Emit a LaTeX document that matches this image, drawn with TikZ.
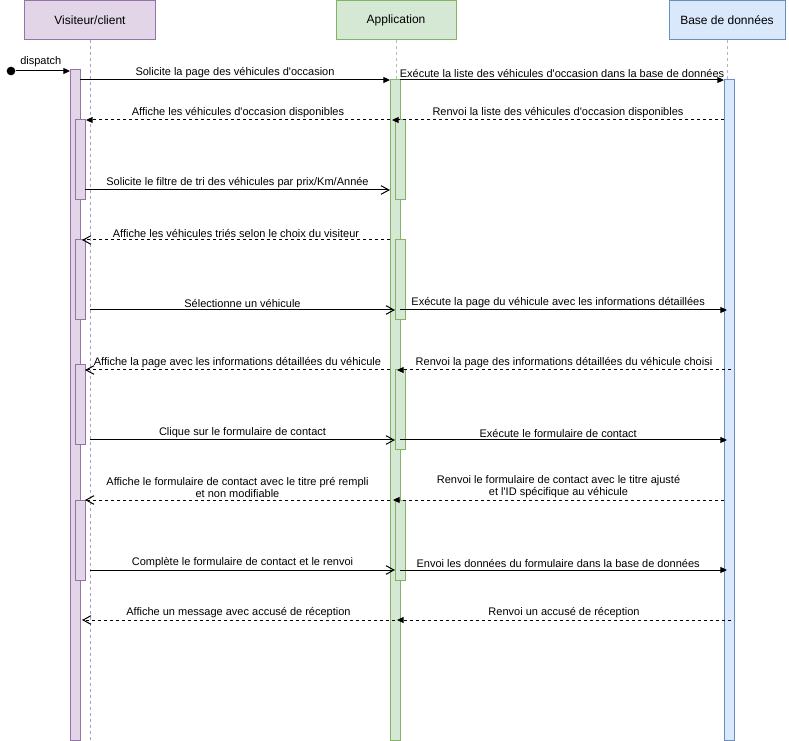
\documentclass[tikz,border=0pt]{standalone}
\usepackage{fontspec}
\setmainfont{Liberation Sans}
\usetikzlibrary{arrows.meta}

\definecolor{violetfond}{RGB}{225,213,231}
\definecolor{violettrait}{RGB}{150,115,166}
\definecolor{vertfond}{RGB}{213,232,212}
\definecolor{verttrait}{RGB}{130,179,102}
\definecolor{bleufond}{RGB}{218,232,252}
\definecolor{bleutrait}{RGB}{108,142,191}

\newcommand{\apos}{\textquotesingle}

\tikzset{
  acteur/.style={draw, line width=0.75pt, minimum height=29.25pt, inner sep=0pt, font=\fontsize{9}{11}\selectfont},
  vie/.style={line width=0.75pt, dash pattern={on 2.25pt off 2.25pt}},
  barre/.style={line width=0.75pt},
  appel/.style={line width=0.75pt, -{Triangle[length=5pt,width=4.5pt]}},
  appelo/.style={line width=0.75pt, -{Straight Barb[length=6pt,width=6.5pt]}},
  retour/.style={appel, dash pattern={on 2.25pt off 2.25pt}},
  retouro/.style={appelo, dash pattern={on 2.25pt off 2.25pt}},
  etiquette/.style={font=\fontsize{8.25}{9}\selectfont, inner sep=1.5pt, align=center},
  point/.style={circle, fill, inner sep=0pt, minimum size=6.5pt}
}

\begin{document}
\begin{tikzpicture}[x=0.75pt,y=0.75pt,yscale=-1,xscale=1]
\useasboundingbox (0,0) rectangle (789,741);

% Header Nodes
\node [acteur, fill=violetfond, draw=violettrait, minimum width=98.25pt] (visiteur) at (90,20.5) {Visiteur/client};
\node [acteur, fill=vertfond, draw=verttrait, minimum width=90pt] (application) at (396,20.5) {Application};
\node [acteur, fill=bleufond, draw=bleutrait, minimum width=87pt] (bdd) at (727,20.5) {Base de données};

% Lifelines
\draw [vie, draw=violettrait!70] (visiteur.south) -- ++(0,700);
\draw [vie, draw=verttrait!40!gray!60] (application.south) -- ++(0,700);
\draw [vie, draw=bleutrait!40!gray!60] (bdd.south) -- ++(0,700);

% Activation bars
\draw [barre, fill=violetfond, draw=violettrait] (70,70) rectangle (80,740);
\foreach \y in {120,240,365,500}
  \draw [barre, fill=violetfond, draw=violettrait] (75,\y) rectangle (85,\y+80);
\draw [barre, fill=vertfond, draw=verttrait] (390,80) rectangle (400,740);
\foreach \y in {120,240,370,500}
  \draw [barre, fill=vertfond, draw=verttrait] (395,\y) rectangle (405,\y+80);
\draw [barre, fill=bleufond, draw=bleutrait] (724,80) rectangle (734,740);

%Dispatch
\node [point] (depart) at (11,71) {};
\coordinate (m1t) at (70,71);
\draw [appel] (depart) -- node [etiquette, above, xshift=-1.5pt, yshift=1pt] (t1) {dispatch} (m1t);

%Straight Lines
\coordinate (m2s) at (80,80); \coordinate (m2t) at (390,80);
\draw [appel] (m2s) -- node [etiquette, above] (t2) {Solicite la page des véhicules d\apos occasion} (m2t);
\coordinate (m3s) at (400,80); \coordinate (m3t) at (724,80);
\draw [appel] (m3s) -- node [etiquette, above] (t3) {Exécute la liste des véhicules d\apos occasion dans la base de données} (m3t);
\coordinate (m4s) at (390,120); \coordinate (m4t) at (86,120);
\draw [retour] (m4s) -- node [etiquette, above] (t4) {Affiche les véhicules d\apos occasion disponibles} (m4t);
\coordinate (m5s) at (724,120); \coordinate (m5t) at (392,120);
\draw [retour] (m5s) -- node [etiquette, above] (t5) {Renvoi la liste des véhicules d\apos occasion disponibles} (m5t);
\coordinate (m6s) at (85,190); \coordinate (m6t) at (390,190);
\draw [appelo] (m6s) -- node [etiquette, above] (t6) {Solicite le filtre de tri des véhicules par prix/Km/Année} (m6t);
\coordinate (m7s) at (390,240); \coordinate (m7t) at (82,240);
\draw [retouro] (m7s) -- node [etiquette, above] (t7) {Affiche les véhicules triés selon le choix du visiteur} (m7t);
\coordinate (m8s) at (90,310); \coordinate (m8t) at (395,310);
\draw [appelo] (m8s) -- node [etiquette, above] (t8) {Sélectionne un véhicule} (m8t);
\coordinate (m9s) at (400,310); \coordinate (m9t) at (727,310);
\draw [appel] (m9s) -- node [etiquette, above, xshift=-4pt] (t9) {Exécute la page du véhicule avec les informations détaillées} (m9t);
\coordinate (m10s) at (390,370); \coordinate (m10t) at (85,370);
\draw [retouro] (m10s) -- node [etiquette, above] (t10) {Affiche la page avec les informations détaillées du véhicule} (m10t);
\coordinate (m11s) at (731,370); \coordinate (m11t) at (397,370);
\draw [retour] (m11s) -- node [etiquette, above] (t11) {Renvoi la page des informations détaillées du véhicule choisi} (m11t);
\coordinate (m12s) at (90,440); \coordinate (m12t) at (395,440);
\draw [appelo] (m12s) -- node [etiquette, above] (t12) {Clique sur le formulaire de contact} (m12t);
\coordinate (m13s) at (400,440); \coordinate (m13t) at (727,440);
\draw [appel] (m13s) -- node [etiquette, above, xshift=-4pt] (t13) {Exécute le formulaire de contact} (m13t);
\coordinate (m14s) at (390,500); \coordinate (m14t) at (85,500);
\draw [retouro] (m14s) -- node [etiquette, above] (t14) {Affiche le formulaire de contact avec le titre pré rempli\\et non modifiable} (m14t);
\coordinate (m15s) at (724,500); \coordinate (m15t) at (393,500);
\draw [retour] (m15s) -- node [etiquette, above] (t15) {Renvoi le formulaire de contact avec le titre ajusté\\et l\apos ID spécifique au véhicule} (m15t);
\coordinate (m16s) at (90,570); \coordinate (m16t) at (395,570);
\draw [appelo] (m16s) -- node [etiquette, above] (t16) {Complète le formulaire de contact et le renvoi} (m16t);
\coordinate (m17s) at (400,570); \coordinate (m17t) at (727,570);
\draw [appel] (m17s) -- node [etiquette, above, xshift=-4pt] (t17) {Envoi les données du formulaire dans la base de données} (m17t);
\coordinate (m18s) at (395,620); \coordinate (m18t) at (82,620);
\draw [retouro] (m18s) -- node [etiquette, above] (t18) {Affiche un message avec accusé de réception} (m18t);
\coordinate (m19s) at (731,620); \coordinate (m19t) at (397,620);
\draw [retour] (m19s) -- node [etiquette, above] (t19) {Renvoi un accusé de réception} (m19t);

\end{tikzpicture}
\end{document}
